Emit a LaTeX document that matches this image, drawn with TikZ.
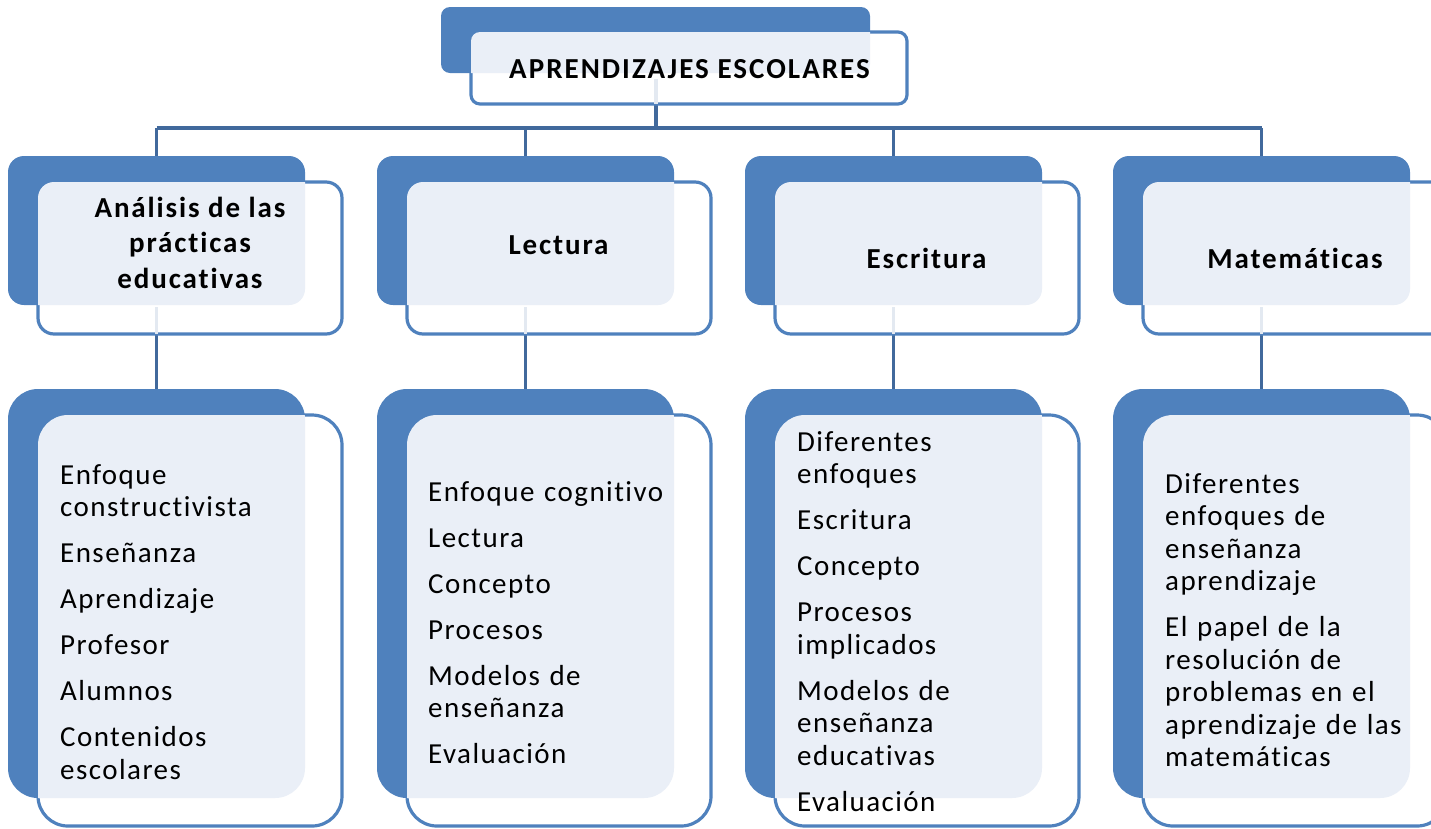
\documentclass[tikz,border=0pt]{standalone}
\usepackage{fontspec}
\setmainfont{Carlito}
\newfontfamily\regf[LetterSpace=5,Ligatures=NoCommon]{Carlito}
\newfontfamily\boldf[LetterSpace=6.5,Ligatures=NoCommon]{Carlito}
\newfontfamily\titlef[LetterSpace=7,Ligatures=NoCommon]{Carlito}
\definecolor{backblue}{HTML}{4F81BD}
\definecolor{lightfill}{HTML}{EAEFF7}
\definecolor{connblue}{HTML}{41699C}
\definecolor{faint}{HTML}{E3E9F1}
\tikzset{
  backbox/.style={fill=backblue},
  frontbox/.style={draw=backblue, line width=3.2pt, fill=white},
  lightbox/.style={fill=lightfill},
  conn/.style={draw=connblue, line width=3.5pt},
  faintline/.style={draw=faint, line width=3.5pt},
  titletext/.style={anchor=base, inner sep=0pt, align=center, font=\titlef\bfseries\fontsize{29}{35}\selectfont},
  headtext/.style={anchor=base, inner sep=0pt, align=center, font=\boldf\bfseries\fontsize{29}{35.5}\selectfont},
  itemtext/.style={anchor=base west, inner sep=0pt, align=left, text width=300pt, font=\regf\fontsize{29}{32.5}\selectfont},
}
\newcommand\dgroup[9]{%
  \fill[backbox, rounded corners=#9] (#1,#2) rectangle (#3,#4);
  \filldraw[frontbox, rounded corners=#9] (#5,#6) rectangle (#7,#8);
  \begin{scope}
    \clip[rounded corners=#9] (#5,#6) rectangle (#7,#8);
    \fill[lightbox, rounded corners=#9] (#1,#2) rectangle (#3,#4);
  \end{scope}}
\begin{document}
\begin{tikzpicture}[x=1pt,y=-1pt]
\useasboundingbox (0,0) rectangle (1431,828);
\clip (0,0) rectangle (1431,828);

% coordinates for connectors
\coordinate (topb) at (656,104);
\coordinate (hub) at (656,128);
\foreach \i/\bx in {0/8,1/377,2/745,3/1113}{
  \coordinate (h\i) at ({\bx+148.5},128);
  \coordinate (at\i) at ({\bx+148.5},156);
  \coordinate (ab\i) at ({\bx+148.5},334);
  \coordinate (bt\i) at ({\bx+148.5},389);
  \coordinate (fa\i) at ({\bx+148.5},307);
}
\coordinate (topfaint) at (656,79);

% connectors
\draw[conn] (topb) -- (hub);
\draw[conn] (h0) -- (h3);
\foreach \i in {0,1,2,3}{
  \draw[conn] (h\i) -- (at\i);
  \draw[conn] (ab\i) -- (bt\i);
}

% top box
\dgroup{441}{7}{870}{73}{471}{32}{907}{104}{9pt}
\draw[faintline] (topfaint) -- (topb);

% level 1 and level 2 boxes
\foreach \i/\bx in {0/8,1/377,2/745,3/1113}{
  \dgroup{\bx}{156}{\bx+297}{305}{\bx+30}{182}{\bx+334}{334}{16pt}
  \draw[faintline] (fa\i) -- (ab\i);
  \dgroup{\bx}{389}{\bx+297}{798}{\bx+30}{415}{\bx+334}{826}{30pt}
}

% texts
\node[titletext] (title) at (689.5,78) {APRENDIZAJES ESCOLARES};

\node[headtext] (h-ana) at (190,288) {Análisis de las\\prácticas\\educativas};
\node[headtext] (h-lec) at (558.5,254) {Lectura};
\node[headtext] (h-esc) at (926.5,268) {Escritura};
\node[headtext] (h-mat) at (1295,268) {Matemáticas};

\node[itemtext] (i-ana) at (60,484) {Enfoque\\constructivista\\[13.5pt]Enseñanza\\[13.5pt]Aprendizaje\\[13.5pt]Profesor\\[13.5pt]Alumnos\\[13.5pt]Contenidos\\escolares};
\node[itemtext] (i-lec) at (428,501) {Enfoque cognitivo\\[13.5pt]Lectura\\[13.5pt]Concepto\\[13.5pt]Procesos\\[13.5pt]Modelos de\\enseñanza\\[13.5pt]Evaluación};
\node[itemtext] (i-esc) at (797,451) {Diferentes\\enfoques\\[13.5pt]Escritura\\[13.5pt]Concepto\\[13.5pt]Procesos\\implicados\\[13.5pt]Modelos de\\enseñanza\\educativas\\[13.5pt]Evaluación};
\node[itemtext] (i-mat) at (1165,493) {Diferentes\\enfoques de\\enseñanza\\aprendizaje\\[13.5pt]El papel de la\\resolución de\\problemas en el\\aprendizaje de las\\matemáticas};
\end{tikzpicture}
\end{document}
